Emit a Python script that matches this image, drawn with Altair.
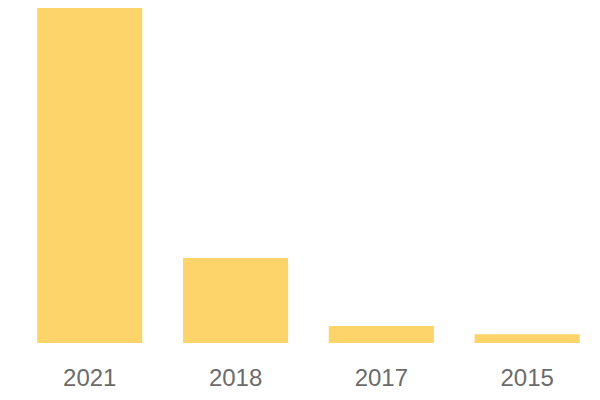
import altair as alt
import pandas as pd

years = ["2021", "2018", "2017", "2015"]
values = [100, 25.4, 5.1, 2.6]

df = pd.DataFrame({"year": years, "value": values})

chart = alt.Chart(df).mark_bar(color="#FDD46A").encode(
    x=alt.X("year:N", sort=years,
            scale=alt.Scale(paddingInner=0.279, paddingOuter=0),
            axis=alt.Axis(title=None, labelAngle=0, domain=False, ticks=False,
                          labelFont="Liberation Sans", labelFontSize=24,
                          labelColor="#6b6b6b", labelPadding=24)),
    y=alt.Y("value:Q", scale=alt.Scale(domain=[0, 100], nice=False),
            axis=None),
).properties(
    width=542.5, height=335,
    autosize=alt.AutoSizeParams(type="none"),
    padding={"left": 29.2, "top": 0, "right": 10, "bottom": 50},
).configure_view(stroke=None)

chart.save("out.html", embed_options={"renderer": "svg", "actions": False})
